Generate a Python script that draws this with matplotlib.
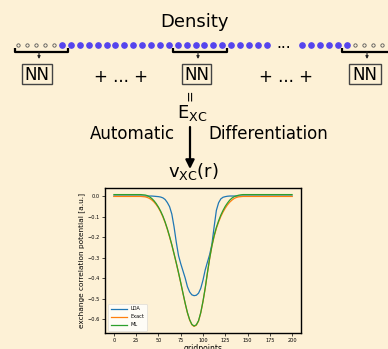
import numpy as np
import matplotlib
matplotlib.use("Agg")
import matplotlib.pyplot as plt
from matplotlib.patches import Rectangle

# ---- potential curves (value per grid point) ----
# coarse sampling on the flat tails, finer sampling across the well
gridpoints = (list(range(0, 35, 5))
              + [35 + 2.5 * i for i in range(45)]
              + list(range(150, 205, 5)))

lda = ([0.0] * 7 +
       [0.0, 0.0, 0.0, 0.0, -0.001, -0.002, -0.003, -0.005, -0.009, -0.017,
        -0.032, -0.052, -0.088, -0.150, -0.225, -0.290, -0.330, -0.365, -0.400, -0.442,
        -0.468, -0.482, -0.486, -0.484, -0.474, -0.450, -0.410, -0.360, -0.322, -0.285,
        -0.235, -0.150, -0.070, -0.033, -0.014, -0.006, -0.003, -0.001, 0.0, 0.0,
        0.0, 0.0, 0.0, 0.0, 0.0] +
       [0.0] * 11)

exact = ([-0.002] * 7 +
         [-0.004, -0.007, -0.012, -0.019, -0.029, -0.042, -0.058, -0.078, -0.102, -0.130,
          -0.163, -0.200, -0.240, -0.283, -0.328, -0.375, -0.424, -0.475, -0.525, -0.570,
          -0.605, -0.628, -0.636, -0.630, -0.610, -0.570, -0.515, -0.450, -0.375, -0.305,
          -0.245, -0.197, -0.158, -0.127, -0.100, -0.078, -0.059, -0.043, -0.030, -0.020,
          -0.012, -0.007, -0.004, -0.003, -0.002] +
         [-0.002] * 11)

ml = ([0.007] * 7 +
      [0.005, 0.002, -0.004, -0.012, -0.023, -0.037, -0.054, -0.074, -0.098, -0.127,
       -0.160, -0.197, -0.237, -0.281, -0.326, -0.373, -0.422, -0.473, -0.523, -0.568,
       -0.603, -0.626, -0.634, -0.628, -0.608, -0.568, -0.513, -0.448, -0.373, -0.303,
       -0.242, -0.193, -0.153, -0.121, -0.093, -0.070, -0.050, -0.034, -0.020, -0.010,
       -0.003, 0.001, 0.004, 0.006, 0.007] +
      [0.007] * 11)

series_labels = ["LDA", "Exact", "ML"]
series_colors = ["#1f77b4", "#ff7f0e", "#2ca02c"]
xticks = [0, 25, 50, 75, 100, 125, 150, 175, 200]
yticks = [-0.6, -0.5, -0.4, -0.3, -0.2, -0.1, 0.0]

BG = "#fdf1d6"
W, H = 388, 349

fig = plt.figure(figsize=(W / 100, H / 100), dpi=100, facecolor=BG)

# ---- schematic layer in pixel coordinates ----
d = fig.add_axes([0, 0, 1, 1])
d.set_xlim(0, W)
d.set_ylim(H, 0)
d.axis("off")
d.patch.set_alpha(0)

d.text(194, 22, "Density", fontsize=13, ha="center", va="center")

# grid of density samples along a line
step = 8.9
row_y = 45
hollow_left = [18 + step * i for i in range(5)]
blue_a = [62 + step * i for i in range(24)]
blue_b = [302 + step * i for i in range(6)]
hollow_right = [355 + step * i for i in range(5)]
d.plot(hollow_left + hollow_right, [row_y] * 10, "o", ms=2.4, mfc="none",
       mec="#555555", mew=0.6, ls="none")
d.plot(blue_a + blue_b, [row_y] * 30, "o", ms=3.8, color="#5544ee", ls="none")
d.text(284, row_y - 1, "...", fontsize=11, ha="center", va="center")

# brackets, small arrows and network boxes
for x0, x1 in [(15, 68), (173, 227), (342, 395)]:
    d.plot([x0, x0, x1, x1], [48, 52, 52, 48], color="black", lw=1.6,
           solid_capstyle="butt")
for cx in [39, 198, 367]:
    d.annotate("", xy=(cx, 59), xytext=(cx, 52),
               arrowprops=dict(arrowstyle="-|>", color="#222222", lw=0.8,
                               mutation_scale=4, shrinkA=0, shrinkB=0))
for bx0, bx1 in [(22, 52), (182, 211), (349, 381)]:
    d.add_patch(Rectangle((bx0, 64), bx1 - bx0, 20, fill=False,
                          edgecolor="#444444", lw=1.0))
    d.text((bx0 + bx1) / 2, 74.5, "NN", fontsize=12, ha="center", va="center")

d.text(121, 77, "+ ... +", fontsize=12, ha="center", va="center")
d.text(286, 77, "+ ... +", fontsize=12, ha="center", va="center")

d.text(191, 95, "=", fontsize=10, rotation=90, ha="center", va="center")
d.text(192, 113, r"$\mathregular{E_{XC}}$", fontsize=13, ha="center", va="center")

d.text(132, 134, "Automatic", fontsize=12, ha="center", va="center")
d.text(268, 134, "Differentiation", fontsize=12, ha="center", va="center")
d.annotate("", xy=(190, 169), xytext=(190, 127),
           arrowprops=dict(arrowstyle="-|>", color="black", lw=1.6,
                           mutation_scale=13, shrinkA=0, shrinkB=0))
d.text(193, 172, r"$\mathregular{v_{XC}(r)}$", fontsize=13, ha="center", va="center")

# ---- potential plot ----
ax = fig.add_axes([105 / W, 1 - 333 / H, 196 / W, 145 / H])
ax.set_facecolor("none")
for vals, lab, col in zip([lda, exact, ml], series_labels, series_colors):
    ax.plot(gridpoints, vals, color=col, lw=0.9, label=lab)
ax.set_xticks(xticks)
ax.set_yticks(yticks)
ax.set_xticklabels([str(t) for t in xticks])
ax.tick_params(labelsize=3.6, length=2, width=0.5, pad=1.5)
for s in ax.spines.values():
    s.set_linewidth(1.0)
ax.set_ylabel("exchange correlation potential [a.u.]", fontsize=5.3, labelpad=2)
ax.set_xlabel("gridpoints", fontsize=5.5, labelpad=1)
ax.legend(loc="lower left", fontsize=3.6, handlelength=3.2, borderpad=0.6,
          labelspacing=0.6, framealpha=0.8, edgecolor="#cccccc",
          fancybox=True).get_frame().set_linewidth(0.4)

fig.savefig("out.png", dpi=100, facecolor=BG)
